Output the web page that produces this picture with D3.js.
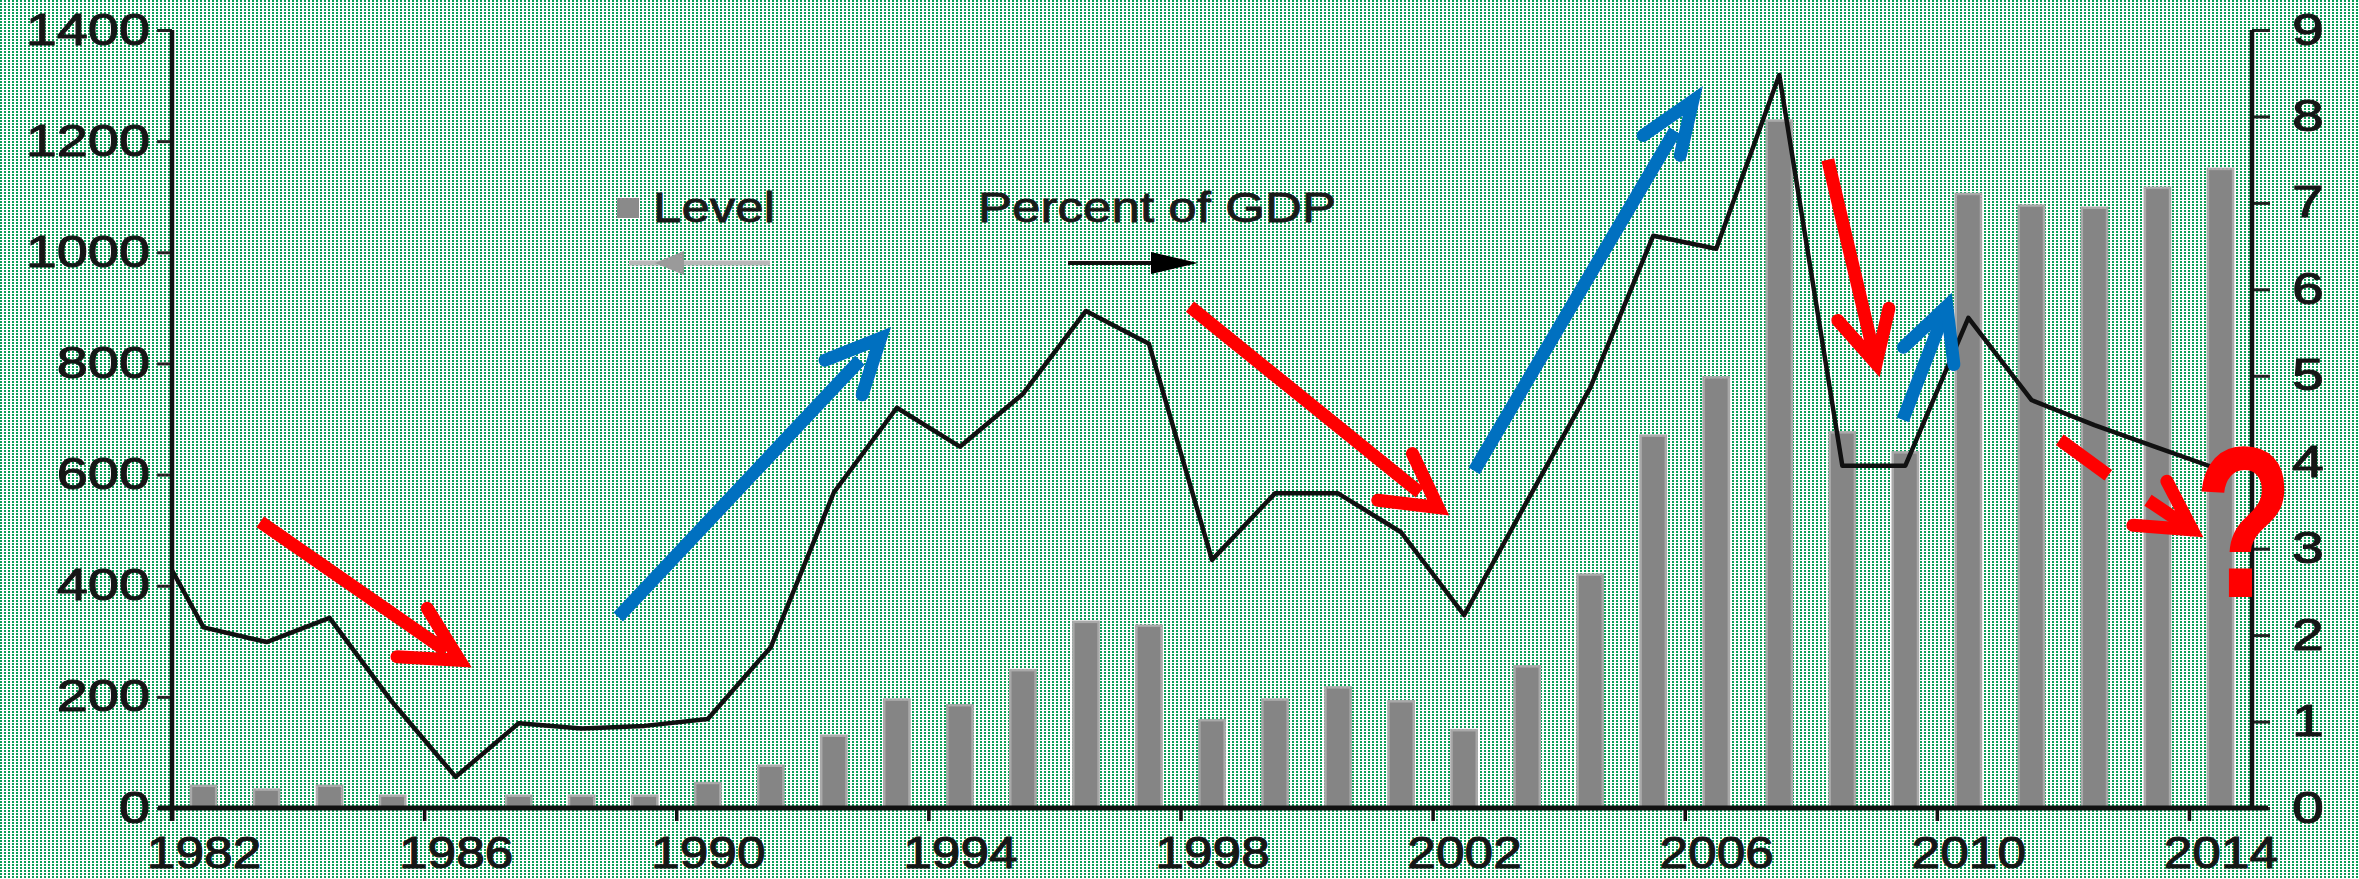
<!DOCTYPE html>
<html>
<head>
<meta charset="utf-8">
<title>Level and percent of GDP</title>
<script src="https://cdn.jsdelivr.net/npm/d3@7/dist/d3.min.js"></script>
<style>
  html, body { margin: 0; padding: 0; }
  #chart { width: 2359px; height: 879px; }
  svg { display: block; }
</style>
</head>
<body>
<div id="chart"></div>
<script>
var years = [1982, 1983, 1984, 1985, 1986, 1987, 1988, 1989, 1990, 1991, 1992,
             1993, 1994, 1995, 1996, 1997, 1998, 1999, 2000, 2001, 2002, 2003,
             2004, 2005, 2006, 2007, 2008, 2009, 2010, 2011, 2012, 2013, 2014];
var level = [40, 33, 40, 22, 0, 22, 22, 22, 45, 76, 130,
             195, 185, 248, 335, 328, 158, 195, 217, 192, 140, 255,
             420, 670, 775, 1237, 676, 640, 1105, 1084, 1080, 1116, 1150];
var gdpShare = [2.09, 1.92, 2.2, 1.22, 0.36, 0.98, 0.92, 0.95, 1.03, 1.86, 3.65,
                4.63, 4.18, 4.79, 5.75, 5.37, 2.87, 3.64, 3.64, 3.19, 2.23, 3.55,
                4.86, 6.62, 6.47, 8.48, 3.96, 3.96, 5.67, 4.72, 4.43, 4.17, 3.91];
var gdpShareStart = 2.75;   // where the line enters at the left axis
var yearTicks = [1982, 1986, 1990, 1994, 1998, 2002, 2006, 2010, 2014];
var levelTicks = [0, 200, 400, 600, 800, 1000, 1200, 1400];
var shareTicks = [0, 1, 2, 3, 4, 5, 6, 7, 8, 9];
var legendLabels = ["Level", "Percent of GDP"];

// hand drawn arrows on top of the chart, in (year, percent of GDP)
var arrows = [
    {color: "#ff0000", tail: [1982.9, 3.31], tip: [1986.18, 1.65], barbs: [[1985.55, 2.31], [1985.07, 1.75]]},
    {color: "#0070c0", tail: [1988.58, 2.21], tip: [1992.84, 5.51], barbs: [[1991.86, 5.18], [1992.45, 4.78]]},
    {color: "#ff0000", tail: [1997.65, 5.80], tip: [2001.70, 3.41], barbs: [[2001.18, 4.10], [2000.63, 3.56]]},
    {color: "#0070c0", tail: [2002.16, 3.90], tip: [2005.70, 8.27], barbs: [[2004.84, 7.78], [2005.43, 7.55]]},
    {color: "#ff0000", tail: [2007.77, 7.50], tip: [2008.57, 5.04], barbs: [[2007.93, 5.64], [2008.74, 5.78]]},
    {color: "#0070c0", tail: [2008.96, 4.49], tip: [2009.71, 5.90], barbs: [[2008.97, 5.33], [2009.77, 5.13]]},
    {color: "#ff0000", tail: [2012.85, 3.56], tip: [2013.67, 3.16], barbs: [[2013.15, 3.78], [2012.61, 3.27]],
        dash: [[2011.45, 4.26], [2012.22, 3.85]]}
];
var question = {text: "?", at: [2014.37, 2.44]};

var width = 2359,
    height = 879,
    margin = {top: 30, left: 172, bottom: 71, right: 107};

var svg = d3.select("#chart").append("svg")
    .attr("width", width)
    .attr("height", height);

var pattern = svg.append("defs").append("pattern")
    .attr("id", "dots")
    .attr("patternUnits", "userSpaceOnUse")
    .attr("width", 4)
    .attr("height", 3);
pattern.append("rect").attr("width", 4).attr("height", 3).attr("fill", "#ffffff");
pattern.append("rect").attr("width", 2).attr("height", 2).attr("fill", "#0a9e57");

svg.append("rect")
    .attr("width", width)
    .attr("height", height)
    .attr("fill", "url(#dots)");

var x = d3.scaleLinear()
    .domain([years[0] - 0.5, years[years.length - 1] + 0.5])
    .range([margin.left, width - margin.right]);
var yLeft = d3.scaleLinear()
    .domain([0, 1400])
    .range([height - margin.bottom, margin.top]);
var yRight = d3.scaleLinear()
    .domain([0, 9])
    .range([height - margin.bottom, margin.top]);

var x0 = x.range()[0], x1 = x.range()[1], yBase = yLeft(0);
var barWidth = (x(1) - x(0)) * 0.4;

// bars
svg.append("g")
    .attr("class", "bars")
    .selectAll("rect")
    .data(years.filter(function(d, i) { return level[i] > 0; }))
    .enter().append("rect")
    .attr("x", function(d) { return x(d) - barWidth / 2; })
    .attr("y", function(d) { return yLeft(level[years.indexOf(d)]); })
    .attr("width", barWidth)
    .attr("height", function(d) { return yBase - yLeft(level[years.indexOf(d)]); })
    .attr("fill", "#858585")
    .attr("stroke", "#a9a9a9")
    .attr("stroke-width", 2.5);

function styleLabels(sel, offset, stretch) {
    sel.attr("font-family", "'Liberation Sans', Arial, sans-serif")
        .attr("font-size", 44)
        .attr("fill", "#161616")
        .attr("stroke", "#161616")
        .attr("stroke-width", 1)
        .attr("transform", "scale(" + stretch + ",1)")
        .attr("x", offset / stretch);
}

// left axis
var leftAxis = svg.append("g")
    .attr("transform", "translate(" + x0 + ",0)")
    .call(d3.axisLeft(yLeft).tickValues(levelTicks).tickSize(15).tickSizeOuter(0).tickFormat(d3.format("d")));
leftAxis.select(".domain").remove();
leftAxis.selectAll(".tick line").attr("stroke", "#222").attr("stroke-width", 3);
styleLabels(leftAxis.selectAll(".tick text"), -22, 1.27);

// right axis
var rightAxis = svg.append("g")
    .attr("transform", "translate(" + x1 + ",0)")
    .call(d3.axisRight(yRight).tickValues(shareTicks).tickSize(18).tickSizeOuter(0));
rightAxis.select(".domain").remove();
rightAxis.selectAll(".tick line").attr("stroke", "#222").attr("stroke-width", 3);
styleLabels(rightAxis.selectAll(".tick text").attr("text-anchor", "middle"), 56, 1.3);

// bottom axis: ticks between years, labels under the bars
var bottomTicks = svg.append("g")
    .attr("transform", "translate(0," + yBase + ")")
    .call(d3.axisBottom(x)
        .tickValues(yearTicks.map(function(d) { return d - 0.5; }))
        .tickSize(13).tickSizeOuter(0).tickFormat(""));
bottomTicks.select(".domain").remove();
bottomTicks.selectAll(".tick line").attr("stroke", "#111").attr("stroke-width", 3.5);

var bottomLabels = svg.append("g")
    .attr("transform", "translate(0," + yBase + ")")
    .call(d3.axisBottom(x).tickValues(yearTicks).tickSize(0).tickPadding(0).tickFormat(d3.format("d")));
bottomLabels.select(".domain").remove();
styleLabels(bottomLabels.selectAll(".tick text").attr("y", 60).attr("dy", 0), 0, 1.17);

// axis lines
var axisLines = svg.append("g").attr("stroke", "#111");
axisLines.append("line")
    .attr("x1", x0).attr("x2", x0)
    .attr("y1", yLeft(1400)).attr("y2", yBase + 13)
    .attr("stroke-width", 4.5);
axisLines.append("line")
    .attr("x1", x1).attr("x2", x1)
    .attr("y1", yRight(9)).attr("y2", yBase)
    .attr("stroke-width", 4.5);
axisLines.append("line")
    .attr("x1", x0 - 14).attr("x2", x1 + 16)
    .attr("y1", yBase).attr("y2", yBase)
    .attr("stroke-width", 5);

// percent of GDP line
var lineData = [[years[0] - 0.5, gdpShareStart]].concat(years.map(function(d, i) {
    return [d, gdpShare[i]];
}));
svg.append("path")
    .datum(lineData)
    .attr("fill", "none")
    .attr("stroke", "#111")
    .attr("stroke-width", 4.5)
    .attr("stroke-linejoin", "round")
    .attr("d", d3.line()
        .x(function(d) { return x(d[0]); })
        .y(function(d) { return yRight(d[1]); }));

// legend
var legend = svg.append("g")
    .attr("font-family", "'Liberation Sans', Arial, sans-serif")
    .attr("font-size", 43)
    .attr("fill", "#1a1a1a")
    .attr("stroke", "#1a1a1a")
    .attr("stroke-width", 0.8);
legend.append("rect")
    .attr("x", 617).attr("y", 198).attr("width", 22).attr("height", 20)
    .attr("fill", "#8a8a8a").attr("stroke", "none");
legend.append("text")
    .attr("x", 653).attr("y", 222)
    .attr("textLength", 122).attr("lengthAdjust", "spacingAndGlyphs")
    .text(legendLabels[0]);
legend.append("text")
    .attr("x", 978).attr("y", 222)
    .attr("textLength", 358).attr("lengthAdjust", "spacingAndGlyphs")
    .text(legendLabels[1]);
legend.append("line")
    .attr("x1", 629).attr("x2", 770).attr("y1", 263).attr("y2", 263)
    .attr("stroke", "#b8b8b8").attr("stroke-width", 5);
legend.append("path")
    .attr("d", "M655,263L684,251L684,275Z")
    .attr("fill", "#9a9a9a").attr("stroke", "none");
legend.append("line")
    .attr("x1", 1068).attr("x2", 1190).attr("y1", 263).attr("y2", 263)
    .attr("stroke", "#111").attr("stroke-width", 4);
legend.append("path")
    .attr("d", "M1151,252L1198,263L1151,274Z")
    .attr("fill", "#000").attr("stroke", "none");

// annotations
var pt = function(d) { return [x(d[0]), yRight(d[1])]; };
var annot = svg.append("g").attr("class", "annotations").attr("fill", "none");
arrows.forEach(function(a) {
    var tail = pt(a.tail), tip = pt(a.tip);
    var dx = tip[0] - tail[0], dy = tip[1] - tail[1], len = Math.sqrt(dx * dx + dy * dy);
    // the mitred point sticks out past the join, so pull the join back a little
    var join = [tip[0] - dx / len * 9, tip[1] - dy / len * 9];
    var end = [tail[0] + dx * 0.9, tail[1] + dy * 0.9];
    if (a.dash) {
        annot.append("line")
            .attr("x1", pt(a.dash[0])[0]).attr("y1", pt(a.dash[0])[1])
            .attr("x2", pt(a.dash[1])[0]).attr("y2", pt(a.dash[1])[1])
            .attr("stroke", a.color).attr("stroke-width", 13);
    }
    annot.append("line")
        .attr("x1", tail[0]).attr("y1", tail[1])
        .attr("x2", end[0]).attr("y2", end[1])
        .attr("stroke", a.color).attr("stroke-width", 13);
    annot.append("path")
        .attr("d", d3.line()([pt(a.barbs[0]), join, pt(a.barbs[1])]))
        .attr("stroke", a.color)
        .attr("stroke-width", 13)
        .attr("stroke-linecap", "round")
        .attr("stroke-linejoin", "miter")
        .attr("stroke-miterlimit", 20);
});

var q = pt(question.at);
svg.append("text")
    .attr("transform", "translate(" + q[0] + "," + q[1] + ") scale(0.76,1)")
    .attr("text-anchor", "middle")
    .attr("font-family", "'Liberation Sans', Arial, sans-serif")
    .attr("font-weight", "bold")
    .attr("font-size", 215)
    .attr("fill", "#ff0000")
    .text(question.text);
</script>
</body>
</html>
